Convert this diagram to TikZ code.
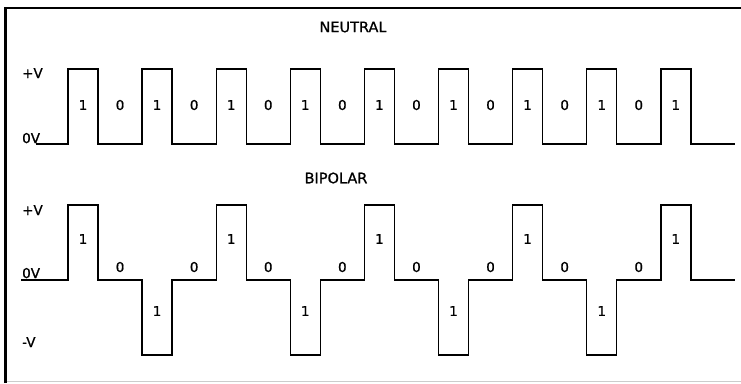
\documentclass[tikz,border=0pt]{standalone}
\usepackage{fontspec}
\setmainfont{DejaVu Sans}
\newfontfamily\scanfont{DejaVu Sans}[FakeBold=0.9]
\usetikzlibrary{math}

\begin{document}
\begin{tikzpicture}[x=1pt,y=-1pt]
\tikzset{
    wave/.style={line width=1.4pt, line join=miter},
    bit/.style={font=\scanfont\fontsize{13.5}{15}\selectfont, inner sep=0pt},
    level/.style={font=\scanfont\fontsize{13.5}{15}\selectfont, inner sep=0pt, anchor=base west},
    heading/.style={font=\scanfont\fontsize{14.5}{16}\selectfont, inner sep=0pt},
}
\useasboundingbox (0,0) rectangle (741,383);

% Frame
\draw[gray!40, line width=1.5pt] (6,381.5) -- (741,381.5);
\draw[line width=2.2pt] (5.5,383) -- (5.5,8) -- (741,8);

% Pulse timing and voltage levels
\tikzmath{
    \xStart = 68;
    \period = 74.1;
    \pulseWidth = 30;
    \highN = 69;
    \lowN = 144;
    \highB = 205;
    \zeroB = 280;
    \swing = 75;
}

% Neutral line code
\node[heading] (neutral) at (353,27) {NEUTRAL};
\node[level] (plusA) at (22,78) {+V};
\node[level] (zeroA) at (22,143) {0V};

\draw[wave] (36,\lowN) \foreach \k in {0,...,8} {
    -- ({\xStart+\k*\period},\lowN) -- ({\xStart+\k*\period},\highN)
    -- ({\xStart+\k*\period+\pulseWidth},\highN) -- ({\xStart+\k*\period+\pulseWidth},\lowN)
    } -- (735,\lowN);

\foreach \k in {0,...,8}
    \node[bit] (oneA\k) at ({\xStart+\k*\period+\pulseWidth/2},105) {1};
\foreach \k in {0,...,7}
    \node[bit] (nilA\k) at ({\xStart+\k*\period+(\period+\pulseWidth)/2},105) {0};

% Bipolar line code, the marks alternate in sign
\node[heading] (bipolar) at (336,178) {BIPOLAR};
\node[level] (plusB) at (22,215) {+V};
\node[level] (zeroB) at (22,278) {0V};
\node[level] (minusB) at (22,347) {-V};

\draw[wave] (21,\zeroB) \foreach \k in {0,...,8} {
    -- ({\xStart+\k*\period},\zeroB)
    -- ({\xStart+\k*\period},{\zeroB+\swing*(2*mod(\k,2)-1)})
    -- ({\xStart+\k*\period+\pulseWidth},{\zeroB+\swing*(2*mod(\k,2)-1)})
    -- ({\xStart+\k*\period+\pulseWidth},\zeroB)
    } -- (735,\zeroB);

\foreach \k in {0,...,8}
    \node[bit] (oneB\k) at ({\xStart+\k*\period+\pulseWidth/2},{275+36*(2*mod(\k,2)-1)}) {1};
\foreach \k in {0,...,7}
    \node[bit] (nilB\k) at ({\xStart+\k*\period+(\period+\pulseWidth)/2},267) {0};

\end{tikzpicture}
\end{document}
